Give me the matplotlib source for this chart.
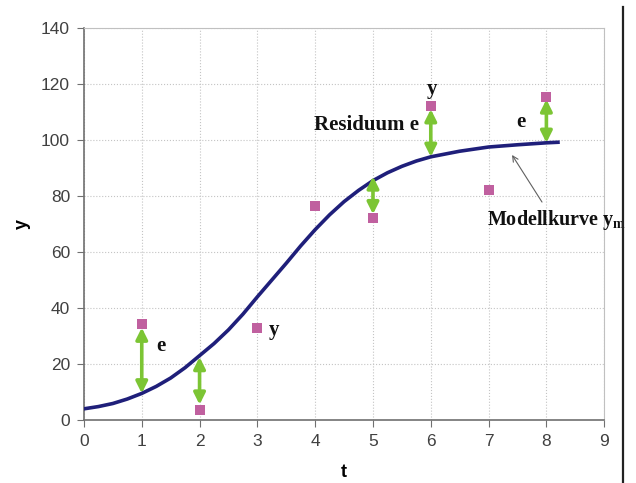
import matplotlib.pyplot as plt
from matplotlib.lines import Line2D

plt.rcParams['mathtext.fontset'] = 'custom'
plt.rcParams['mathtext.bf'] = 'Liberation Serif:bold'
plt.rcParams['mathtext.rm'] = 'Liberation Serif:bold'

# Messpunkte
t_pts = [1, 2, 3, 4, 5, 6, 7, 8]
y_pts = [34.3, 3.5, 32.8, 76.4, 72.0, 112.0, 82.0, 115.4]

# Modellkurve
t_mod = [0, 0.25, 0.5, 0.75, 1, 1.25, 1.5, 1.75, 2, 2.25, 2.5, 2.75, 3, 3.25, 3.5,
         3.75, 4, 4.25, 4.5, 4.75, 5, 5.25, 5.5, 5.75, 6, 6.5, 7, 7.5, 8, 8.2]
y_mod = [4.0, 4.8, 5.9, 7.5, 9.5, 12.0, 15.0, 18.7, 23.0, 27.3, 32.2, 37.8, 44.0, 50.0, 56.0,
         62.2, 68.0, 73.3, 78.0, 82.0, 85.5, 88.3, 90.6, 92.5, 94.0, 96.0, 97.5, 98.3, 99.0, 99.2]

# Residuen-Pfeile (t, von, bis)
arr_t = [1, 2, 5, 6, 8]
arr_top = [33.0, 22.5, 87.0, 111.0, 114.5]
arr_bot = [9.5, 5.5, 73.5, 94.0, 99.0]

fig = plt.figure(figsize=(6.36, 4.83), dpi=100)
ax = fig.add_axes([0.132, 0.1304, 0.818, 0.8116])

ax.set_xlim(0, 9)
ax.set_ylim(0, 140)
ax.set_xticks(range(0, 10))
ax.set_yticks(range(0, 141, 20))
ax.grid(True, color='#c4c4c4', linestyle=':', linewidth=0.8)
ax.set_axisbelow(True)

for s in ['left', 'bottom']:
    ax.spines[s].set_color('#707070')
    ax.spines[s].set_linewidth(1.2)
for s in ['top', 'right']:
    ax.spines[s].set_color('#c0c0c0')
    ax.spines[s].set_linewidth(0.8)
ax.tick_params(direction='out', length=5, color='#707070', labelcolor='#404040',
               labelsize=12.5, pad=5)
for lab in ax.get_xticklabels() + ax.get_yticklabels():
    lab.set_family('Liberation Sans')

ax.set_xlabel('t', fontsize=13, fontweight='bold', family='Liberation Sans', labelpad=11)
ax.set_ylabel('y', fontsize=13, fontweight='bold', family='Liberation Sans', labelpad=7)

ax.plot(t_mod, y_mod, color='#1f1f7a', linewidth=2.6, zorder=3)

for t, a, b in zip(arr_t, arr_top, arr_bot):
    ax.annotate('', xy=(t, a), xytext=(t, b),
                arrowprops=dict(arrowstyle='<|-|>', color='#7cc534', lw=2.6,
                                mutation_scale=17, shrinkA=0, shrinkB=0), zorder=4)

ax.scatter(t_pts, y_pts, marker='s', s=42, color='#c0609f', zorder=5, linewidths=0)

serif = dict(family='Liberation Serif', fontweight='bold', color='#111111', fontsize=15)
ax.text(1.25, 24.5, 'e', **serif)
ax.text(3.2, 30.5, 'y', **serif)
ax.text(3.98, 103.5, 'Residuum e', **serif)
ax.text(5.93, 116.5, 'y', **serif)
ax.text(7.48, 104.5, 'e', **serif)
ax.text(6.98, 69.5, 'Modellkurve y$_{\\mathbf{m}}$', family='Liberation Serif',
        fontweight='bold', color='#111111', fontsize=14.5)
ax.annotate('', xy=(7.38, 95.5), xytext=(7.95, 77),
            arrowprops=dict(arrowstyle='->', color='#606060', lw=0.8))

fig.add_artist(Line2D([623 / 636, 623 / 636], [0, 1 - 7 / 483], color='#222222',
                      linewidth=1.6, transform=fig.transFigure))

fig.savefig('out.png', dpi=100)
